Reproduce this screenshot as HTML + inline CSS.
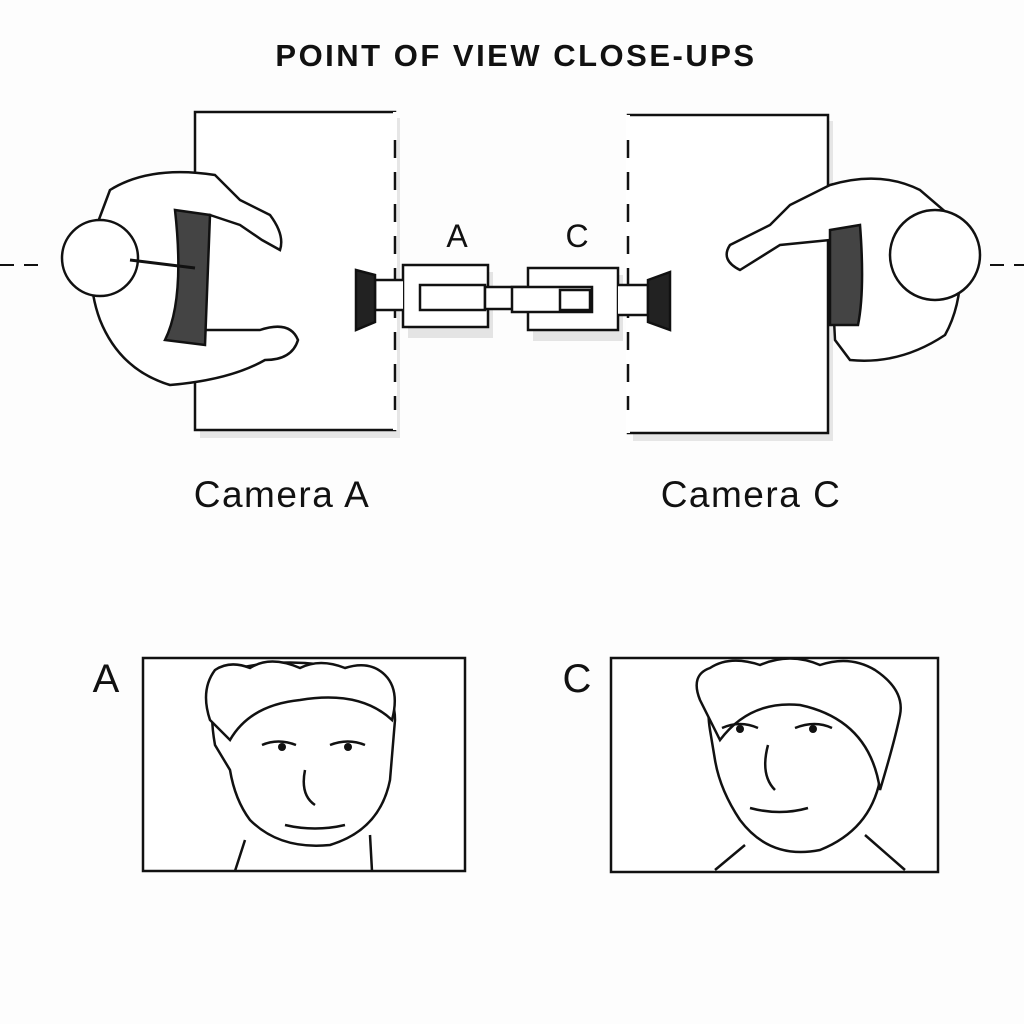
<!DOCTYPE html>
<html><head><meta charset="utf-8"><style>
html,body{margin:0;padding:0;background:#fdfdfd;}
svg{display:block}
text{font-family:"Liberation Sans",sans-serif;fill:#111}
</style></head><body>
<svg width="1024" height="1024" viewBox="0 0 1024 1024" xmlns="http://www.w3.org/2000/svg">
<rect width="1024" height="1024" fill="#fdfdfd"/>
<text x="516" y="66" font-size="31" font-weight="bold" text-anchor="middle" letter-spacing="2.5">POINT OF VIEW CLOSE-UPS</text>

<g stroke="#111" stroke-width="2.5" fill="none">
<rect x="200" y="118" width="200" height="320" fill="#e6e6e6" stroke="none"/>
<rect x="633" y="121" width="200" height="320" fill="#e6e6e6" stroke="none"/>
<rect x="195" y="112" width="200" height="318" fill="#fff"/>
<rect x="628" y="115" width="200" height="318" fill="#fff"/>
<line x1="395" y1="112" x2="395" y2="430" stroke="#fff" stroke-width="4"/>
<line x1="628" y1="115" x2="628" y2="433" stroke="#fff" stroke-width="4"/>
<line x1="395" y1="140" x2="395" y2="410" stroke-dasharray="18 14"/>
<line x1="628" y1="140" x2="628" y2="410" stroke-dasharray="18 14"/>
<line x1="0" y1="265" x2="40" y2="265" stroke-dasharray="14 10" stroke-width="2"/>
<line x1="990" y1="265" x2="1024" y2="265" stroke-dasharray="14 10" stroke-width="2"/>

<path d="M110 190 Q150 165 215 175 L240 200 L270 215 Q285 235 280 250 L262 240 L240 225 L210 215 L200 330 L260 330 Q290 320 298 340 Q292 360 265 360 Q230 380 170 385 Q120 370 100 320 Q85 280 95 230 Z" fill="#fff"/>
<path d="M175 210 L210 215 L205 345 L165 340 Q185 300 175 210 Z" fill="#444"/>
<circle cx="100" cy="258" r="38" fill="#fff"/>
<path d="M130 260 L195 268" stroke-width="3"/>
<path d="M920 190 Q880 170 830 185 L790 205 L770 225 L730 245 Q720 260 740 270 L780 245 L830 240 L835 340 L850 360 Q900 365 945 335 Q970 290 955 220 Z" fill="#fff"/>
<path d="M830 230 L860 225 Q865 290 858 325 L830 325 Z" fill="#444"/>
<circle cx="935" cy="255" r="45" fill="#fff"/>

<rect x="408" y="272" width="85" height="66" fill="#e4e4e4" stroke="none"/>
<rect x="403" y="265" width="85" height="62" fill="#fff"/>
<rect x="420" y="285" width="65" height="25" fill="#fff"/>
<rect x="485" y="287" width="40" height="22" fill="#fff"/>
<path d="M403 280 L375 280 L375 310 L403 310" fill="#fff"/>
<path d="M375 275 L356 270 L356 330 L375 322 Z" fill="#222"/>
<rect x="533" y="275" width="90" height="66" fill="#e4e4e4" stroke="none"/>
<rect x="528" y="268" width="90" height="62" fill="#fff"/>
<rect x="512" y="287" width="80" height="25" fill="#fff"/>
<rect x="560" y="290" width="30" height="20" fill="#fff"/>
<path d="M618 285 L648 285 L648 315 L618 315" fill="#fff"/>
<path d="M648 280 L670 272 L670 330 L648 322 Z" fill="#222"/>

<rect x="143" y="658" width="322" height="213" fill="#fff"/>
<rect x="611" y="658" width="327" height="214" fill="#fff"/>
<path d="M215 745 Q205 690 230 670 Q290 655 350 670 Q395 680 395 720 L390 780 Q380 830 330 845 Q280 850 250 820 Q235 800 230 770 Z" fill="#fff"/>
<path d="M210 720 Q200 690 215 670 Q230 660 250 668 Q270 655 300 668 Q320 658 345 668 Q370 660 385 675 Q400 690 392 720 Q360 690 300 700 Q250 705 230 740 Z" fill="#fff"/>
<path d="M262 745 Q278 738 296 745 M330 745 Q348 738 365 745 M305 770 Q300 795 315 805 M285 825 Q315 832 345 825 M245 840 L235 871 M370 835 L372 871"/>
<path d="M710 730 Q700 670 760 665 Q830 660 870 690 Q895 720 880 780 Q870 830 820 850 Q770 860 740 820 Q720 790 715 760 Z" fill="#fff"/>
<path d="M700 700 Q690 675 710 668 Q730 655 760 665 Q790 652 820 665 Q850 655 875 670 Q905 690 900 715 Q895 740 880 790 Q870 720 800 705 Q750 700 720 740 Z" fill="#fff"/>
<path d="M722 728 Q740 720 758 728 M795 728 Q815 720 832 728 M768 745 Q760 775 775 790 M750 808 Q780 816 808 808 M745 845 L715 870 M865 835 L905 870"/>
</g>
<circle cx="282" cy="747" r="4" fill="#111"/><circle cx="348" cy="747" r="4" fill="#111"/>
<circle cx="740" cy="729" r="4" fill="#111"/><circle cx="813" cy="729" r="4" fill="#111"/>

<text x="457" y="247" font-size="32" text-anchor="middle">A</text>
<text x="577" y="247" font-size="32" text-anchor="middle">C</text>
<text x="282" y="507" font-size="37" text-anchor="middle" letter-spacing="1.5">Camera A</text>
<text x="751" y="507" font-size="37" text-anchor="middle" letter-spacing="1.5">Camera C</text>
<text x="106" y="692" font-size="40" text-anchor="middle">A</text>
<text x="577" y="692" font-size="40" text-anchor="middle">C</text>
</svg>
</body></html>
